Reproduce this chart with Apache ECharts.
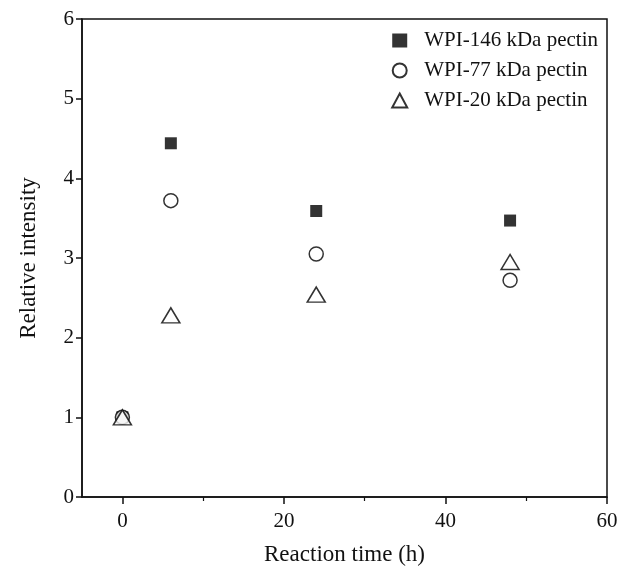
<!DOCTYPE html>
<html>
<head>
<meta charset="utf-8">
<script src="https://cdn.jsdelivr.net/npm/echarts@6/dist/echarts.min.js"></script>
<style>
  html, body { margin: 0; padding: 0; background: #fff; }
  #chart { width: 621px; height: 573px; }
</style>
</head>
<body>
<div id="chart"></div>
<script>
const reactionHours = [0, 6, 24, 48];
const pectin146 = [1.0, 4.44, 3.59, 3.47];
const pectin77 = [1.0, 3.72, 3.05, 2.72];
const pectin20 = [1.0, 2.28, 2.54, 2.95];
const seriesNames = ['WPI-146 kDa pectin', 'WPI-77 kDa pectin', 'WPI-20 kDa pectin'];
const xMajorTicks = [0, 20, 40, 60];
const xMinorTicks = [10, 30, 50];

const FONT = 'Liberation Serif';
const INK = '#111';

function toPoints(values) {
  return reactionHours.map((hour, i) => [hour, values[i]]);
}

const chart = echarts.init(document.getElementById('chart'), null, { renderer: 'canvas' });

chart.setOption({
  animation: false,
  backgroundColor: '#fff',
  textStyle: { fontFamily: FONT, color: INK },
  grid: {
    left: 82,
    right: 14,
    top: 19,
    bottom: 76,
    show: true,
    borderColor: INK,
    borderWidth: 1.5,
    backgroundColor: 'transparent',
  },
  legend: {
    orient: 'vertical',
    right: 18,
    top: 25,
    itemGap: 9,
    itemWidth: 15,
    itemHeight: 14,
    textStyle: { fontFamily: FONT, fontSize: 21, color: INK, padding: [0, 0, 0, 12] },
    data: seriesNames,
  },
  xAxis: [
    {
      type: 'value',
      min: -5,
      max: 60,
      name: 'Reaction time (h)',
      nameLocation: 'middle',
      nameGap: 46,
      nameTextStyle: { fontFamily: FONT, fontSize: 23, color: INK },
      axisLine: { show: true, onZero: false, lineStyle: { color: INK, width: 1.5 } },
      axisTick: { show: true, inside: false, length: 7, customValues: xMajorTicks, lineStyle: { color: INK, width: 1.5 } },
      axisLabel: { customValues: xMajorTicks, fontFamily: FONT, fontSize: 21, color: INK, margin: 14 },
      splitLine: { show: false },
    },
    {
      type: 'value',
      min: -5,
      max: 60,
      position: 'bottom',
      axisLine: { show: false, onZero: false },
      axisTick: { show: true, length: 4, customValues: xMinorTicks, lineStyle: { color: INK, width: 1.2 } },
      axisLabel: { show: false },
      splitLine: { show: false },
    },
  ],
  yAxis: {
    type: 'value',
    min: 0,
    max: 6,
    interval: 1,
    name: 'Relative intensity',
    nameLocation: 'middle',
    nameGap: 42,
    nameTextStyle: { fontFamily: FONT, fontSize: 23, color: INK },
    axisLine: { show: true, onZero: false, lineStyle: { color: INK, width: 1.5 } },
    axisTick: { show: true, length: 6, lineStyle: { color: INK, width: 1.5 } },
    axisLabel: { fontFamily: FONT, fontSize: 21, color: INK, margin: 8 },
    splitLine: { show: false },
  },
  series: [
    {
      name: seriesNames[0],
      type: 'scatter',
      data: toPoints(pectin146),
      symbol: 'rect',
      symbolSize: 12,
      itemStyle: { color: '#000', borderColor: '#000', borderWidth: 0 },
      z: 3,
    },
    {
      name: seriesNames[1],
      type: 'scatter',
      data: toPoints(pectin77),
      symbol: 'circle',
      symbolSize: 14,
      itemStyle: { color: '#fff', borderColor: '#000', borderWidth: 1.5 },
      z: 4,
    },
    {
      name: seriesNames[2],
      type: 'scatter',
      data: toPoints(pectin20),
      symbol: 'triangle',
      symbolSize: [18, 15],
      itemStyle: { color: '#fff', borderColor: '#000', borderWidth: 1.5 },
      z: 5,
    },
  ],
});
</script>
</body>
</html>
